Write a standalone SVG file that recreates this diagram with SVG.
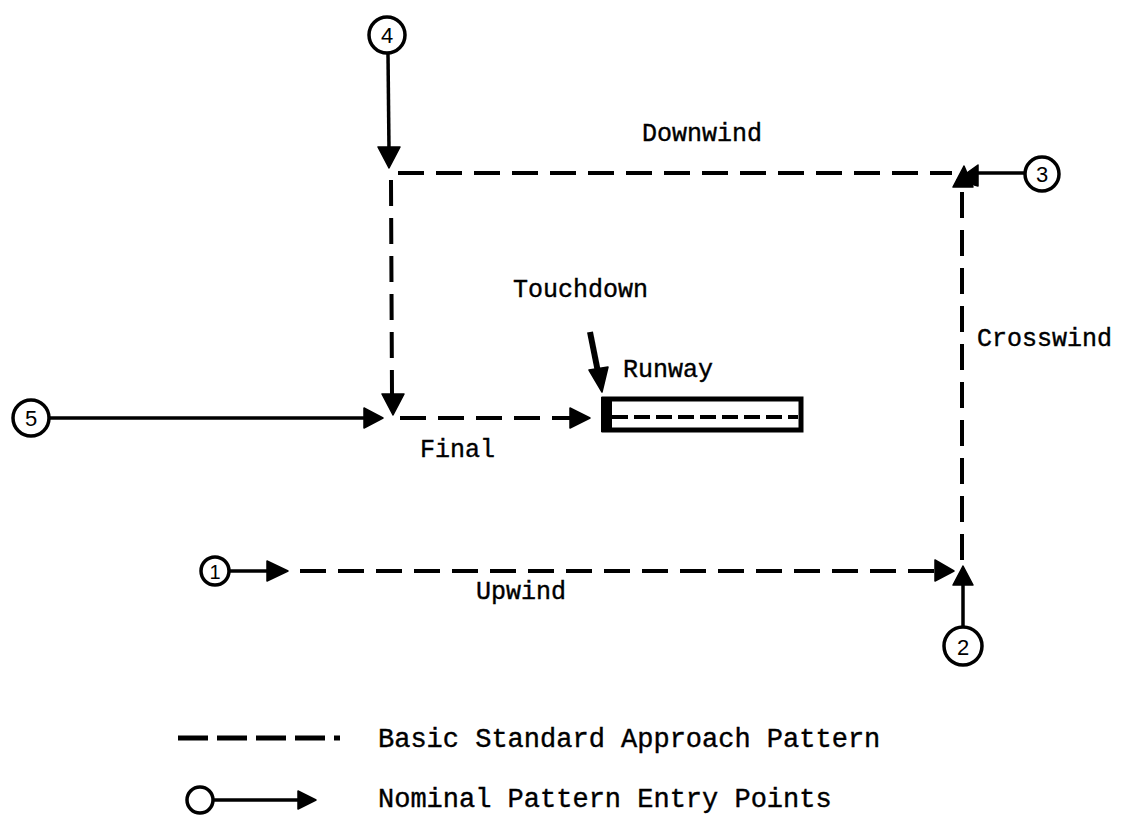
<svg xmlns="http://www.w3.org/2000/svg" width="1123" height="818" viewBox="0 0 1123 818">
<style>
.bg{fill:#fff}
.c{fill:#fff;stroke:#000;stroke-width:3.5}
.num{font-family:"Liberation Sans",Arial,sans-serif;font-size:22px;fill:#000;text-anchor:middle}
.lbl{font-family:"Liberation Mono","Courier New",monospace;font-size:25px;fill:#000;stroke:#000;stroke-width:0.4}
.leg{font-size:27px}
.solid{stroke:#000;stroke-width:3.5;fill:none}
.dash{stroke:#000;stroke-width:4;fill:none;stroke-dasharray:26 12}
.head{fill:#000;stroke:#000;stroke-width:1.5;stroke-linejoin:round}
</style>
<rect class="bg" x="0" y="0" width="1123" height="818"/>
<g id="connectors">
  <line class="dash" x1="398" y1="173" x2="952" y2="173"/>
  <line class="dash" x1="391" y1="180" x2="392" y2="395"/>
  <line class="dash" x1="400" y1="418" x2="570" y2="418"/>
  <line class="dash" x1="962" y1="560" x2="962" y2="190"/>
  <line class="dash" x1="300" y1="571" x2="935" y2="571"/>
  <line class="solid" x1="388" y1="54" x2="389" y2="150"/>
  <polygon class="head" points="378,147 400,147 389,168"/>
  <polygon class="head" points="382,394 404,394 393,415"/>
  <line class="solid" x1="50" y1="418" x2="366" y2="418"/>
  <polygon class="head" points="364,408 364,428 383,418"/>
  <polygon class="head" points="570,408 570,428 590,418"/>
  <line class="solid" x1="1025" y1="173" x2="975" y2="173"/>
  <polygon class="head" points="978,165 978,186 957,180"/>
  <polygon class="head" points="953,187 973,187 964,166"/>
  <line class="solid" x1="228" y1="571" x2="268" y2="571"/>
  <polygon class="head" points="267,561 267,581 288,571"/>
  <polygon class="head" points="935,560 935,581 954,571"/>
  <line class="solid" x1="963" y1="626" x2="963" y2="585"/>
  <polygon class="head" points="953,585 973,585 963,566"/>
  <line x1="590" y1="332" x2="598" y2="372" stroke="#000" stroke-width="6"/>
  <polygon class="head" points="589,370 608,367 602,392"/>
</g>
<g id="node4"><circle class="c" cx="387" cy="35" r="18"/><text class="num" x="387" y="43">4</text></g>
<g id="node3"><circle class="c" cx="1042" cy="174" r="17"/><text class="num" x="1042" y="182">3</text></g>
<g id="node5"><circle class="c" cx="31" cy="418" r="18"/><text class="num" x="31" y="426">5</text></g>
<g id="node1"><circle class="c" cx="215" cy="571" r="14"/><text class="num" x="215" y="579" style="font-size:20px">1</text></g>
<g id="node2"><circle class="c" cx="963" cy="646" r="19"/><text class="num" x="963" y="655">2</text></g>
<g id="runway">
  <rect x="604" y="399" width="197" height="31" fill="#fff" stroke="#000" stroke-width="5"/>
  <rect x="601" y="397" width="11" height="35" fill="#000"/>
  <line x1="612" y1="417" x2="798" y2="417" stroke="#000" stroke-width="4" stroke-dasharray="16 6"/>
</g>
<g id="labels">
  <text class="lbl" x="642" y="141">Downwind</text>
  <text class="lbl" x="513" y="297">Touchdown</text>
  <text class="lbl" x="623" y="377">Runway</text>
  <text class="lbl" x="977" y="346">Crosswind</text>
  <text class="lbl" x="420" y="457">Final</text>
  <text class="lbl" x="476" y="599">Upwind</text>
</g>
<g id="legend">
  <line x1="178" y1="738" x2="340" y2="738" stroke="#000" stroke-width="5" stroke-dasharray="30 9"/>
  <text class="lbl leg" x="378" y="747">Basic Standard Approach Pattern</text>
  <circle class="c" cx="200" cy="800" r="13"/>
  <line class="solid" x1="213" y1="800" x2="300" y2="800"/>
  <polygon class="head" points="298,791 298,809 316,800"/>
  <text class="lbl leg" x="378" y="807">Nominal Pattern Entry Points</text>
</g>
</svg>
